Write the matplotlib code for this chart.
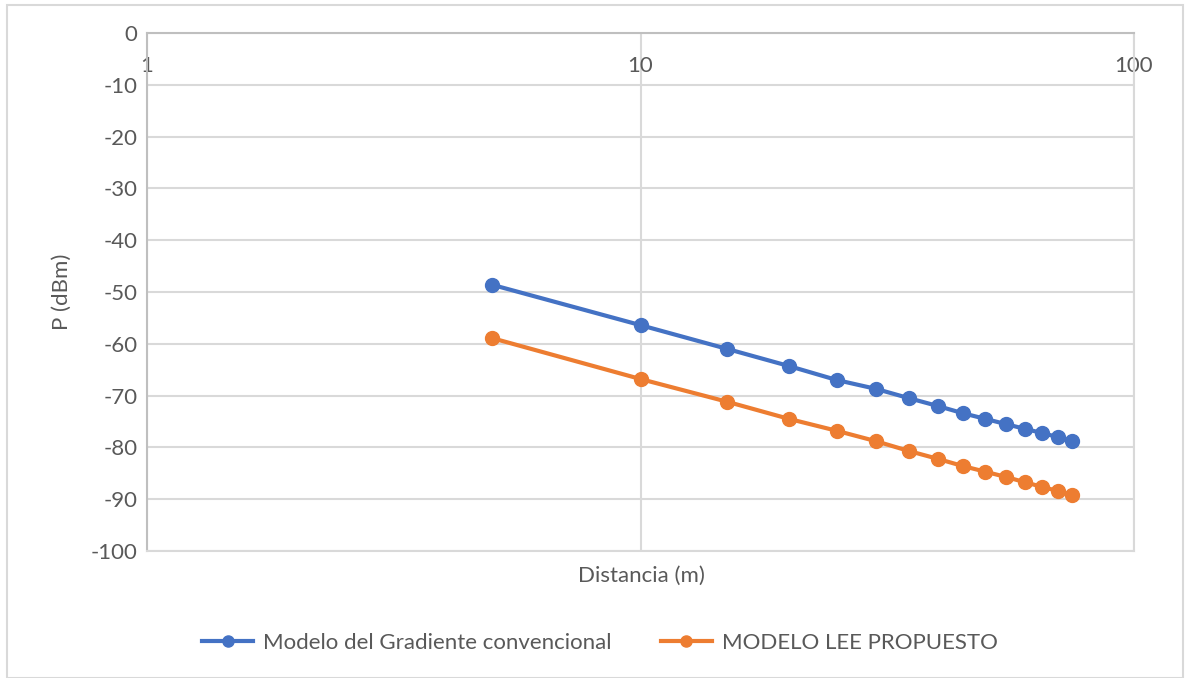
import matplotlib
matplotlib.use("Agg")
import matplotlib.pyplot as plt
from matplotlib.patches import Rectangle
from matplotlib.ticker import FixedLocator, NullLocator

distancia = [5, 10, 15, 20, 25, 30, 35, 40, 45, 50, 55, 60, 65, 70, 75]
gradiente = [-48.6, -56.4, -61.0, -64.3, -67.0, -68.7, -70.5, -72.0, -73.4,
             -74.5, -75.5, -76.4, -77.2, -78.0, -78.8]
lee = [-58.9, -66.8, -71.2, -74.5, -76.8, -78.8, -80.7, -82.2, -83.6,
       -84.7, -85.7, -86.7, -87.6, -88.4, -89.2]
series_names = ["Modelo del Gradiente convencional", "MODELO LEE PROPUESTO"]
x_ticks = [1, 10, 100]
x_tick_labels = ["1", "10", "100"]
y_ticks = list(range(0, -101, -10))

plt.rcParams['font.family'] = ['Lato', 'DejaVu Sans']
txt = "#595959"
W, H = 1187, 678
fig = plt.figure(figsize=(W / 100, H / 100), dpi=100)
fig.patches.append(Rectangle((7 / W, 0), (1183 - 7) / W, 1 - 5 / H,
                             transform=fig.transFigure, fill=False,
                             edgecolor="#d9d9d9", linewidth=1.5))

ax = fig.add_axes([147 / W, 1 - 551 / H, (1134 - 147) / W, (551 - 33) / H])
ax.set_xscale("log")
ax.set_xlim(1, 100)
ax.set_ylim(-100, 0)

ax.plot(distancia, gradiente, color="#4472c4", linewidth=3, marker="o",
        markersize=10, label=series_names[0], zorder=3)
ax.plot(distancia, lee, color="#ed7d31", linewidth=3, marker="o",
        markersize=10, label=series_names[1], zorder=3)

ax.xaxis.set_major_locator(FixedLocator(x_ticks))
ax.xaxis.set_minor_locator(NullLocator())
ax.set_xticklabels(x_tick_labels)
ax.set_yticks(y_ticks)
ax.set_yticklabels([str(v) for v in y_ticks])
ax.grid(True, which="major", color="#d9d9d9", linewidth=1.5)
ax.set_axisbelow(True)

ax.xaxis.tick_top()
ax.tick_params(axis="x", which="both", length=0, pad=-31, labelsize=16,
               labelcolor=txt)
ax.tick_params(axis="y", length=0, pad=7, labelsize=16, labelcolor=txt)

for s in ["top", "left"]:
    ax.spines[s].set_color("#bfbfbf")
    ax.spines[s].set_linewidth(1.5)
for s in ["bottom", "right"]:
    ax.spines[s].set_color("#d9d9d9")
    ax.spines[s].set_linewidth(1.5)

fig.text(62 / W, 1 - 292 / H, "P (dBm)", rotation=90, ha="center",
         va="center", fontsize=16, color=txt)
fig.text(641 / W, 1 - 576 / H, "Distancia (m)", ha="center", va="center",
         fontsize=16, color=txt)

leg = fig.legend(loc="center", bbox_to_anchor=(600 / W, 1 - 643 / H),
                 ncol=2, frameon=False, fontsize=16, labelcolor=txt,
                 handlelength=2.3, handletextpad=0.45, columnspacing=2.2,
                 markerscale=0.8)

fig.savefig("out.png", dpi=100)
